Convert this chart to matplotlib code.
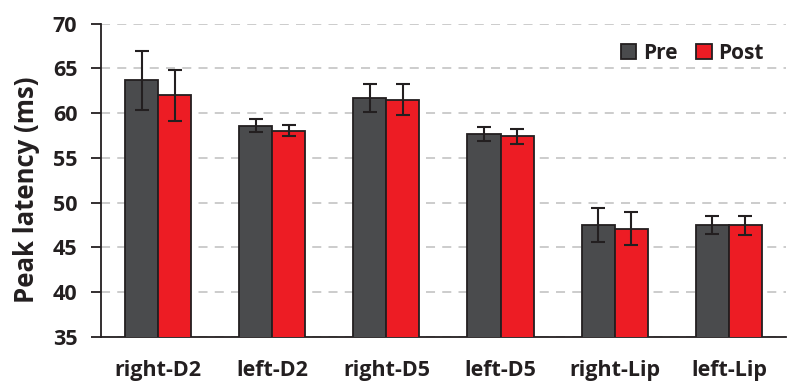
import matplotlib
matplotlib.use("Agg")
import matplotlib.pyplot as plt
import numpy as np

categories = ["right-D2", "left-D2", "right-D5", "left-D5", "right-Lip", "left-Lip"]
pre_values = [63.7, 58.6, 61.7, 57.7, 47.5, 47.5]
pre_errors = [3.3, 0.75, 1.6, 0.8, 1.9, 1.0]
post_values = [62.0, 58.05, 61.5, 57.4, 47.05, 47.45]
post_errors = [2.85, 0.6, 1.75, 0.8, 1.85, 1.1]
y_ticks = [35, 40, 45, 50, 55, 60, 65, 70]

plt.rcParams['font.family'] = ['Open Sans', 'DejaVu Sans']
plt.rcParams['font.weight'] = 'bold'

fig = plt.figure(figsize=(7.87, 3.9), dpi=100)
ax = fig.add_axes([0.1283, 0.1367, 0.8704, 0.8023])

x = np.arange(len(categories))
w = 0.29
edge = "#231f20"
ax.bar(x - w/2, pre_values, w, yerr=pre_errors, color="#4a4b4d", edgecolor=edge,
       linewidth=1.3, label="Pre", capsize=5, error_kw=dict(ecolor=edge, elinewidth=1.5, capthick=1.5),
       zorder=3)
ax.bar(x + w/2, post_values, w, yerr=post_errors, color="#ed1c24", edgecolor=edge,
       linewidth=1.3, label="Post", capsize=5, error_kw=dict(ecolor=edge, elinewidth=1.5, capthick=1.5),
       zorder=3)

ax.set_xlim(-0.5, len(categories) - 0.5)
ax.set_ylim(35, 70)
ax.set_yticks(y_ticks)
ax.set_xticks(x)
ax.set_xticklabels(categories, fontsize=15.5, fontweight='bold', color="#231f20")
ax.tick_params(axis='x', length=0, pad=17)
ax.tick_params(axis='y', length=7, width=1.3, color=edge, labelsize=15.5, labelcolor="#231f20", pad=10)
for lab in ax.get_yticklabels():
    lab.set_fontweight('bold')

ax.yaxis.grid(True, linestyle=(0, (5, 4)), color="#c8c8c8", linewidth=1.3, zorder=0)
ax.set_axisbelow(True)
for s in ["top", "right"]:
    ax.spines[s].set_visible(False)
for s in ["left", "bottom"]:
    ax.spines[s].set_color(edge)
    ax.spines[s].set_linewidth(1.3)

ax.set_ylabel("Peak latency (ms)", fontsize=18.5, fontweight='bold', color="#231f20")
ax.yaxis.set_label_coords(-0.089, 0.47)

leg = ax.legend(loc="center right", bbox_to_anchor=(0.967, 0.905), ncol=2, frameon=False,
                handlelength=0.75, handleheight=0.75, handletextpad=0.3,
                columnspacing=0.9, prop=dict(weight='bold', size=15),
                borderaxespad=0, borderpad=0)
for t in leg.get_texts():
    t.set_color("#231f20")

fig.savefig("out.png", dpi=100)
